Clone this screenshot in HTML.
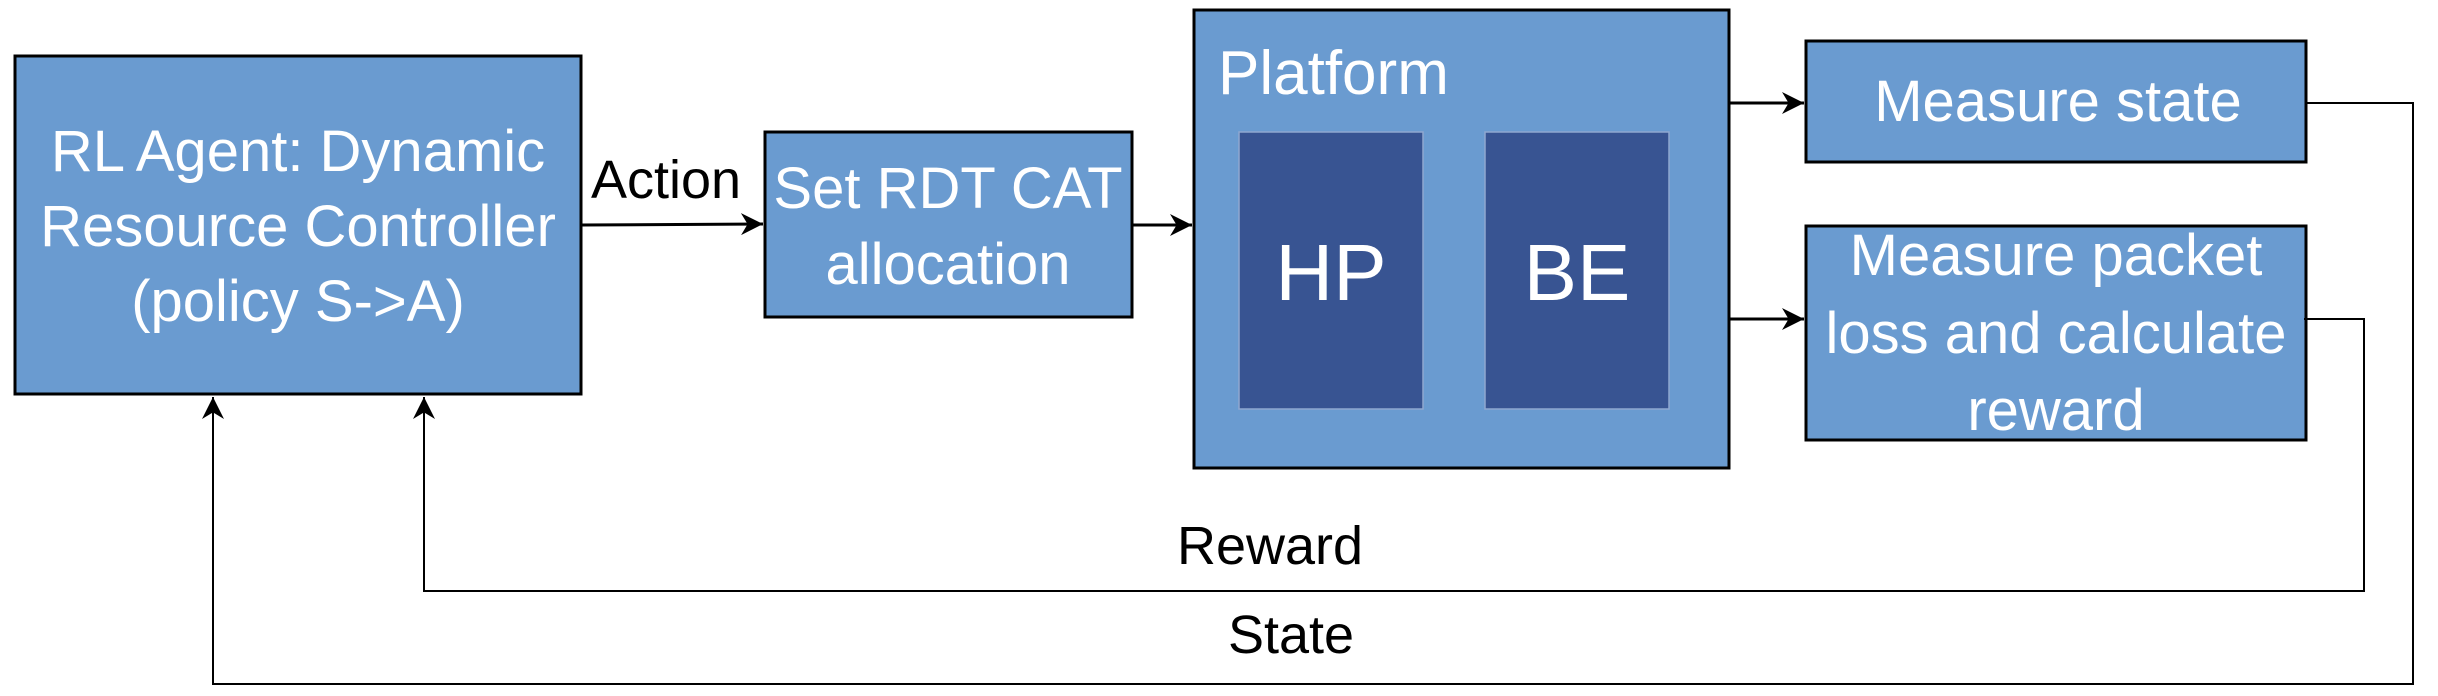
<!DOCTYPE html>
<html><head><style>
html,body{margin:0;padding:0;background:#fff;}
svg{display:block;}
text{font-family:"Liberation Sans",sans-serif;}
</style></head><body>
<svg width="2438" height="696" viewBox="0 0 2438 696" xmlns="http://www.w3.org/2000/svg">
<defs>
<marker id="ab" viewBox="0 0 10 10" refX="10" refY="5" markerWidth="22" markerHeight="22" markerUnits="userSpaceOnUse" orient="auto">
<path d="M0,0 L10,5 L0,10 L3,5 z" fill="#000"/>
</marker>
</defs>
<g stroke="#000" stroke-width="3" fill="#6a9bd0">
<rect x="15" y="56" width="566" height="338"/>
<rect x="765" y="132" width="367" height="185"/>
<rect x="1194" y="10" width="535" height="458"/>
<rect x="1806" y="41" width="500" height="121"/>
<rect x="1806" y="226" width="500" height="214"/>
</g>
<rect x="1239" y="132" width="184" height="277" fill="#385492" stroke="#8fa8d0" stroke-width="1.5"/>
<rect x="1485" y="132" width="184" height="277" fill="#385492" stroke="#8fa8d0" stroke-width="1.5"/>
<g stroke="#000" stroke-width="3" fill="none">
<line x1="581" y1="225" x2="763" y2="224" marker-end="url(#ab)"/>
<line x1="1132" y1="225" x2="1192" y2="225" marker-end="url(#ab)"/>
<line x1="1729" y1="103" x2="1804" y2="103" marker-end="url(#ab)"/>
<line x1="1729" y1="319" x2="1804" y2="319" marker-end="url(#ab)"/>
</g>
<g stroke="#000" stroke-width="2" fill="none">
<polyline points="2306,103 2413,103 2413,684 213,684 213,397" marker-end="url(#ab)"/>
<polyline points="2304,319 2364,319 2364,591 424,591 424,397" marker-end="url(#ab)"/>
</g>
<g fill="#fff" font-size="58" text-anchor="middle">
<text x="298" y="171">RL Agent: Dynamic</text>
<text x="298" y="246">Resource Controller</text>
<text x="298" y="321">(policy S-&gt;A)</text>
<text x="948" y="208">Set RDT CAT</text>
<text x="948" y="284">allocation</text>
<text x="2058" y="121">Measure state</text>
<text x="2056" y="275">Measure packet</text>
<text x="2056" y="353">loss and calculate</text>
<text x="2056" y="430">reward</text>
<text x="1331" y="300" font-size="80">HP</text>
<text x="1577" y="300" font-size="80">BE</text>
<text x="1218" y="94" text-anchor="start" font-size="62">Platform</text>
</g>
<g fill="#000" font-size="54">
<text x="591" y="198">Action</text>
<text x="1177" y="564">Reward</text>
<text x="1228" y="653">State</text>
</g>
</svg>
</body></html>
